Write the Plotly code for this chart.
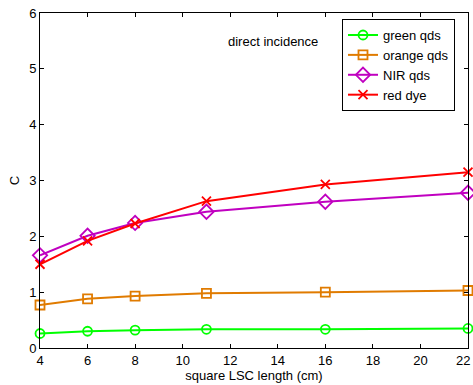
import plotly.graph_objects as go

x_vals = [4, 6, 8, 11, 16, 22]
green_qds = [0.26, 0.30, 0.32, 0.335, 0.335, 0.35]
orange_qds = [0.77, 0.88, 0.93, 0.98, 1.00, 1.03]
nir_qds = [1.66, 2.01, 2.24, 2.44, 2.62, 2.78]
red_dye = [1.50, 1.92, 2.23, 2.63, 2.93, 3.15]
x_ticks = [4, 6, 8, 10, 12, 14, 16, 18, 20, 22]

series = [
    ("green qds", green_qds, "#00ff00", "circle-open", 9),
    ("orange qds", orange_qds, "#e07b00", "square-open", 9),
    ("NIR qds", nir_qds, "#c000c0", "diamond-open", 11),
    ("red dye", red_dye, "#ff0000", "x-thin-open", 9),
]

fig = go.Figure()
for name, ys, color, sym, sz in series:
    fig.add_trace(go.Scatter(
        x=x_vals, y=ys, name=name, mode="lines+markers", cliponaxis=False,
        line=dict(color=color, width=2),
        marker=dict(symbol=sym, size=sz, color=color, line=dict(color=color, width=1.8)),
    ))

fig.add_annotation(x=0.544, y=0.916, xref="paper", yref="paper",
                   text="direct incidence", showarrow=False,
                   font=dict(size=13, color="black"), xanchor="center", yanchor="middle")

# last x tick label, kept inside the figure edge
fig.add_annotation(x=x_ticks[-1], y=0, xref="x", yref="paper", text=str(x_ticks[-1]),
                   showarrow=False, xanchor="right", xshift=4, yanchor="top", yshift=-3,
                   font=dict(size=13, color="black"))

axis_common = dict(showgrid=False, zeroline=False, showline=True, linecolor="black",
                   linewidth=1, mirror="ticks", ticks="inside", ticklen=4,
                   tickcolor="black", tickfont=dict(size=13, color="black"),
                   automargin=False)

fig.update_xaxes(range=[4, 22], tickvals=x_ticks,
                 ticktext=[str(t) for t in x_ticks[:-1]] + [""],
                 title=dict(text="square LSC length (cm)", font=dict(size=13, color="black"), standoff=2),
                 **axis_common)
fig.update_yaxes(range=[0, 6], dtick=1,
                 title=dict(text="C", font=dict(size=13, color="black"), standoff=6),
                 **axis_common)

fig.update_layout(
    width=473, height=385,
    margin=dict(l=40, r=5, t=13, b=37),
    plot_bgcolor="white", paper_bgcolor="white",
    font=dict(family="Liberation Sans, Arial, sans-serif", size=13, color="black"),
    legend=dict(x=0.7056, y=0.982, xanchor="left", yanchor="top",
                bordercolor="black", borderwidth=1, bgcolor="white",
                font=dict(size=13), tracegroupgap=0, itemwidth=30),
    showlegend=True,
)

fig.write_html("out.html", config={"displayModeBar": False},
               post_script="document.body.style.margin='0px';document.body.style.overflow='hidden';")
